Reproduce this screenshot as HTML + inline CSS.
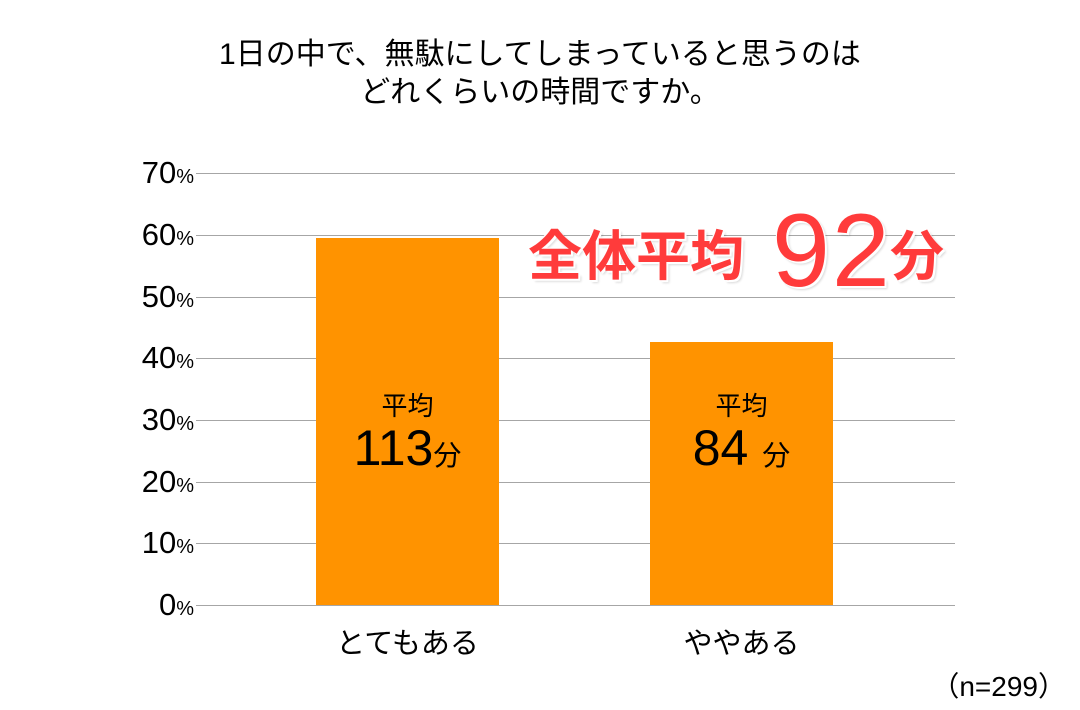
<!DOCTYPE html>
<html><head><meta charset="utf-8"><style>
body{margin:0;width:1080px;height:710px;background:#fff;position:relative;overflow:hidden;font-family:"Liberation Sans","Noto Sans CJK JP",sans-serif;color:#000}
.a{position:absolute;white-space:nowrap}
.g{position:absolute;left:196px;width:759px;height:1px;background:#a6a6a6}
.yl{position:absolute;right:886px;font-size:31px;line-height:30px}
.yl span{font-size:20px}
.bar{position:absolute;background:#ff9300}
.red{color:#ff3b3b;font-weight:bold;text-shadow:2px 2px 0 #fff,-1px -1px 0 #fff,3px 3px 2px rgba(0,0,0,0.15)}
</style></head><body>
<div class="a" style="left:0;width:1080px;text-align:center;top:36px;font-size:30px;line-height:38px">1日の中で、無駄にしてしまっていると思うのは<br>どれくらいの時間ですか。</div>
<div class="g" style="top:173px"></div>
<div class="g" style="top:235px"></div>
<div class="g" style="top:297px"></div>
<div class="g" style="top:358px"></div>
<div class="g" style="top:420px"></div>
<div class="g" style="top:482px"></div>
<div class="g" style="top:543px"></div>
<div class="g" style="top:605px"></div>
<div class="yl" style="top:158px">70<span>%</span></div>
<div class="yl" style="top:220px">60<span>%</span></div>
<div class="yl" style="top:282px">50<span>%</span></div>
<div class="yl" style="top:343px">40<span>%</span></div>
<div class="yl" style="top:405px">30<span>%</span></div>
<div class="yl" style="top:467px">20<span>%</span></div>
<div class="yl" style="top:528px">10<span>%</span></div>
<div class="yl" style="top:590px">0<span>%</span></div>
<div class="bar" style="left:316px;width:183px;top:238px;height:367px"></div>
<div class="bar" style="left:650px;width:183px;top:342px;height:263px"></div>
<div class="a" style="left:316px;width:183px;text-align:center;top:386px;font-size:26px">平均</div>
<div class="a" style="left:316px;width:183px;text-align:center;top:420px;font-size:50px;line-height:56px">113<span style="font-size:28px">分</span></div>
<div class="a" style="left:650px;width:183px;text-align:center;top:386px;font-size:26px">平均</div>
<div class="a" style="left:650px;width:183px;text-align:center;top:420px;font-size:50px;line-height:56px">84 <span style="font-size:28px">分</span></div>
<div class="a" style="left:316px;width:183px;text-align:center;top:620px;font-size:29px">とてもある</div>
<div class="a" style="left:650px;width:183px;text-align:center;top:620px;font-size:29px">ややある</div>
<div class="a" style="right:14px;top:665px;font-size:28px">（n=299）</div>
<div class="a red" style="left:528px;top:222px;font-size:54px;line-height:70px">全体平均</div>
<div class="a red" style="left:772px;top:196px;font-size:104px;line-height:110px;font-weight:normal;letter-spacing:2px">92</div>
<div class="a red" style="left:890px;top:222px;font-size:54px;line-height:70px">分</div>
</body></html>
